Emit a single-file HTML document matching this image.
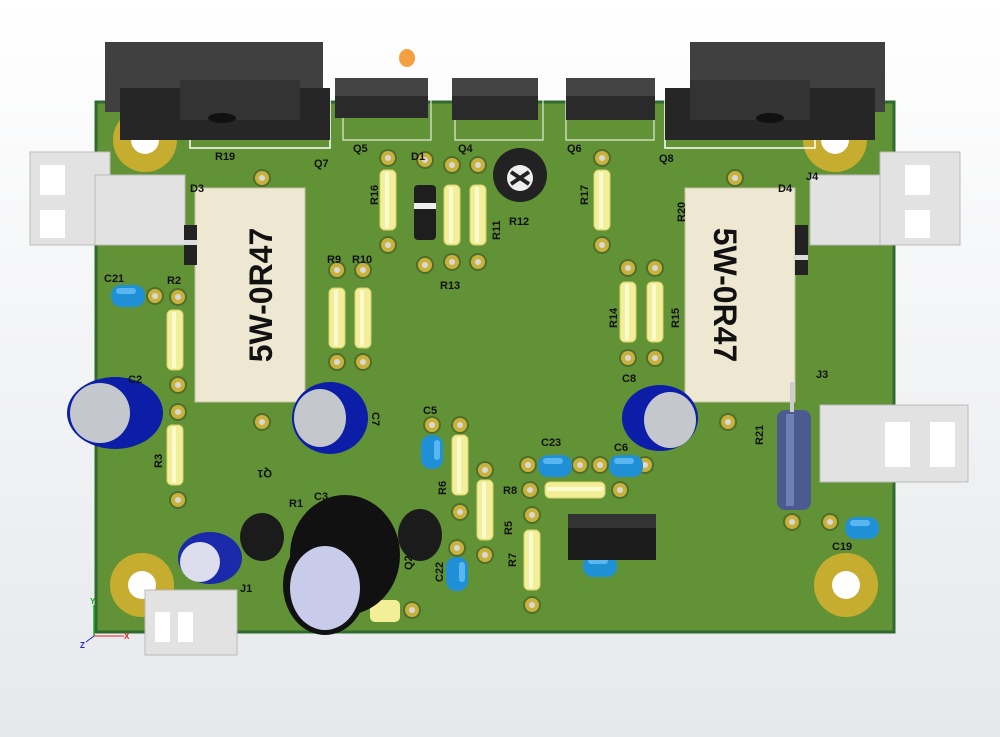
<!DOCTYPE html>
<html><head><style>
body{margin:0;background:#fff}
svg{display:block}
text{font-family:"Liberation Sans",sans-serif;font-weight:bold;font-size:11px;fill:#111}
</style></head><body>
<svg width="1000" height="737" viewBox="0 0 1000 737">
<defs>
<linearGradient id="bg" x1="0" y1="0" x2="0" y2="1"><stop offset="0" stop-color="#ffffff"/><stop offset="1" stop-color="#e6e8ec"/></linearGradient>
<g id="pad"><circle r="9" fill="#4e6e2a"/><circle r="7" fill="#c9b23c"/><circle r="3" fill="#d8d8d8"/></g>
<g id="rv"><rect x="-8" y="-30" width="16" height="60" rx="5" fill="#f3ef98" stroke="#d8d070" stroke-width="1"/><rect x="-3" y="-28" width="4" height="56" fill="#fbf9d0"/></g>
<g id="cap"><rect x="-17" y="-11" width="34" height="22" rx="10" fill="#1f8fd6"/><rect x="-12" y="-8" width="20" height="6" rx="3" fill="#5ab6ee"/></g>
</defs>
<rect width="1000" height="737" fill="url(#bg)"/>
<rect x="96" y="102" width="798" height="530" fill="#629236" stroke="#2f6a2e" stroke-width="3"/>
<g fill="#c6ad2f"><circle cx="145" cy="140" r="32"/><circle cx="835" cy="140" r="32"/><circle cx="142" cy="585" r="32"/><circle cx="846" cy="585" r="32"/></g>
<g fill="#fff"><circle cx="145" cy="140" r="14"/><circle cx="835" cy="140" r="14"/><circle cx="142" cy="585" r="14"/><circle cx="846" cy="585" r="14"/></g>
<rect x="190" y="100" width="140" height="48" fill="none" stroke="#fff" stroke-width="1.5"/>
<rect x="105" y="42" width="218" height="70" fill="#404040"/>
<rect x="120" y="88" width="210" height="52" fill="#262626"/>
<rect x="180" y="80" width="120" height="40" fill="#333"/>
<ellipse cx="222" cy="118" rx="14" ry="5" fill="#111"/>
<rect x="665" y="100" width="150" height="48" fill="none" stroke="#fff" stroke-width="1.5"/>
<rect x="690" y="42" width="195" height="70" fill="#404040"/>
<rect x="665" y="88" width="210" height="52" fill="#262626"/>
<rect x="690" y="80" width="120" height="40" fill="#333"/>
<ellipse cx="770" cy="118" rx="14" ry="5" fill="#111"/>
<g><rect x="343" y="100" width="88" height="40" fill="none" stroke="#fff"/><rect x="335" y="78" width="93" height="40" fill="#2a2a2a"/><rect x="335" y="78" width="93" height="18" fill="#444"/></g>
<g><rect x="455" y="100" width="88" height="40" fill="none" stroke="#fff"/><rect x="452" y="78" width="86" height="42" fill="#2a2a2a"/><rect x="452" y="78" width="86" height="18" fill="#444"/></g>
<g><rect x="566" y="100" width="88" height="40" fill="none" stroke="#fff"/><rect x="566" y="78" width="89" height="42" fill="#2a2a2a"/><rect x="566" y="78" width="89" height="18" fill="#444"/></g>
<ellipse cx="407" cy="58" rx="8" ry="9" fill="#f5a040"/>
<g fill="#e2e2e2" stroke="#bbb"><rect x="30" y="152" width="80" height="93"/><rect x="95" y="175" width="90" height="70"/><rect x="810" y="175" width="90" height="70"/><rect x="880" y="152" width="80" height="93"/><rect x="820" y="405" width="148" height="77"/><rect x="145" y="590" width="92" height="65"/></g>
<g fill="#fff"><rect x="40" y="165" width="25" height="30"/><rect x="40" y="210" width="25" height="28"/><rect x="905" y="165" width="25" height="30"/><rect x="905" y="210" width="25" height="28"/><rect x="885" y="422" width="25" height="45"/><rect x="930" y="422" width="25" height="45"/><rect x="155" y="612" width="15" height="30"/><rect x="178" y="612" width="15" height="30"/></g>
<rect x="195" y="188" width="110" height="214" fill="#eee8d2" stroke="#c8c0a8"/>
<rect x="685" y="188" width="110" height="214" fill="#eee8d2" stroke="#c8c0a8"/>
<text transform="translate(272,295) rotate(-90)" text-anchor="middle" style="font-size:32px;fill:#111">5W-0R47</text>
<text transform="translate(714,295) rotate(90)" text-anchor="middle" style="font-size:32px;fill:#111">5W-0R47</text>
<use href="#pad" x="262" y="178"/><use href="#pad" x="262" y="422"/><use href="#pad" x="735" y="178"/><use href="#pad" x="728" y="422"/>
<rect x="184" y="225" width="13" height="40" fill="#222"/><rect x="184" y="240" width="13" height="5" fill="#ddd"/>
<rect x="795" y="225" width="13" height="50" fill="#222"/><rect x="795" y="255" width="13" height="5" fill="#ddd"/>
<g>
<use href="#pad" x="388" y="158"/><use href="#pad" x="388" y="245"/><use href="#rv" x="388" y="200"/>
<use href="#pad" x="425" y="160"/><use href="#pad" x="425" y="265"/><rect x="414" y="185" width="22" height="55" rx="4" fill="#1e1e1e"/><rect x="414" y="203" width="22" height="6" fill="#eee"/>
<use href="#pad" x="452" y="165"/><use href="#pad" x="452" y="262"/><use href="#rv" x="452" y="215"/>
<use href="#pad" x="478" y="165"/><use href="#pad" x="478" y="262"/><use href="#rv" x="478" y="215"/>
<use href="#pad" x="602" y="158"/><use href="#pad" x="602" y="245"/><use href="#rv" x="602" y="200"/>
<use href="#pad" x="337" y="270"/><use href="#pad" x="337" y="362"/><use href="#rv" x="337" y="318"/>
<use href="#pad" x="363" y="270"/><use href="#pad" x="363" y="362"/><use href="#rv" x="363" y="318"/>
<use href="#pad" x="628" y="268"/><use href="#pad" x="628" y="358"/><use href="#rv" x="628" y="312"/>
<use href="#pad" x="655" y="268"/><use href="#pad" x="655" y="358"/><use href="#rv" x="655" y="312"/>
<use href="#pad" x="178" y="297"/><use href="#pad" x="178" y="385"/><use href="#rv" x="175" y="340"/>
<use href="#pad" x="178" y="412"/><use href="#pad" x="178" y="500"/><use href="#rv" x="175" y="455"/>
<use href="#pad" x="460" y="425"/><use href="#pad" x="460" y="512"/><use href="#rv" x="460" y="465"/>
<use href="#pad" x="485" y="470"/><use href="#pad" x="485" y="555"/><use href="#rv" x="485" y="510"/>
<use href="#pad" x="532" y="515"/><use href="#pad" x="532" y="605"/><use href="#rv" x="532" y="560"/>
<use href="#pad" x="530" y="490"/><use href="#pad" x="620" y="490"/><use href="#rv" transform="translate(575,490) rotate(90)"/>
<use href="#pad" x="412" y="610"/><rect x="370" y="600" width="30" height="22" rx="5" fill="#f3ef98"/>
</g>
<use href="#pad" x="792" y="522"/><rect x="777" y="410" width="34" height="100" rx="8" fill="#4b5b8f"/><rect x="786" y="414" width="8" height="92" fill="#6f80b5"/><rect x="790" y="382" width="4" height="30" fill="#ccc"/>
<circle cx="520" cy="175" r="27" fill="#222"/><circle cx="520" cy="178" r="13" fill="#eee"/><path d="M511 172l18 12M529 172l-18 12" stroke="#222" stroke-width="4"/>
<use href="#pad" x="155" y="296"/><use href="#cap" x="128" y="296"/>
<use href="#pad" x="432" y="425"/><use href="#cap" transform="translate(432,452) rotate(90)"/>
<use href="#pad" x="528" y="465"/><use href="#pad" x="580" y="465"/><use href="#cap" x="555" y="466"/>
<use href="#pad" x="600" y="465"/><use href="#pad" x="645" y="465"/><use href="#cap" x="626" y="466"/>
<use href="#pad" x="457" y="548"/><use href="#cap" transform="translate(457,574) rotate(90)"/>
<use href="#pad" x="830" y="522"/><use href="#cap" x="862" y="528"/>
<use href="#cap" x="600" y="566"/>
<rect x="568" y="522" width="88" height="38" fill="#1c1c1c"/><rect x="568" y="514" width="88" height="14" fill="#333"/>
<ellipse cx="115" cy="413" rx="48" ry="36" fill="#0c1ea8"/><ellipse cx="100" cy="413" rx="30" ry="30" fill="#c4c7cc"/>
<ellipse cx="330" cy="418" rx="38" ry="36" fill="#0c1ea8"/><ellipse cx="320" cy="418" rx="26" ry="29" fill="#c4c7cc"/>
<ellipse cx="660" cy="418" rx="38" ry="33" fill="#0c1ea8"/><ellipse cx="670" cy="420" rx="26" ry="28" fill="#c4c7cc"/>
<ellipse cx="210" cy="558" rx="32" ry="26" fill="#1a2aa8"/><ellipse cx="200" cy="562" rx="20" ry="20" fill="#dde"/>
<ellipse cx="262" cy="537" rx="22" ry="24" fill="#1b1b1b"/>
<ellipse cx="420" cy="535" rx="22" ry="26" fill="#1b1b1b"/>
<ellipse cx="345" cy="555" rx="55" ry="60" fill="#111"/><ellipse cx="325" cy="585" rx="42" ry="50" fill="#111"/><ellipse cx="325" cy="588" rx="35" ry="42" fill="#c9cbea"/>
<text x="215" y="160">R19</text><text x="314" y="167">Q7</text><text x="353" y="152">Q5</text><text x="411" y="160">D1</text><text x="458" y="152">Q4</text>
<text x="567" y="152">Q6</text><text x="659" y="162">Q8</text><text x="190" y="192">D3</text><text x="778" y="192">D4</text><text x="806" y="180">J4</text>
<text x="104" y="282">C21</text><text x="167" y="284">R2</text><text x="327" y="263">R9</text><text x="352" y="263">R10</text><text x="440" y="289">R13</text>
<text x="509" y="225">R12</text><text x="128" y="383">C2</text><text x="622" y="382">C8</text><text x="816" y="378">J3</text><text x="423" y="414">C5</text>
<text x="541" y="446">C23</text><text x="614" y="451">C6</text><text x="503" y="494">R8</text><text x="314" y="500">C3</text><text x="289" y="507">R1</text>
<text x="832" y="550">C19</text><text x="240" y="592">J1</text>
<text transform="translate(378,205) rotate(-90)">R16</text><text transform="translate(500,240) rotate(-90)">R11</text>
<text transform="translate(588,205) rotate(-90)">R17</text><text transform="translate(685,222) rotate(-90)">R20</text>
<text transform="translate(617,328) rotate(-90)">R14</text><text transform="translate(679,328) rotate(-90)">R15</text>
<text transform="translate(162,468) rotate(-90)">R3</text><text transform="translate(446,495) rotate(-90)">R6</text>
<text transform="translate(512,535) rotate(-90)">R5</text><text transform="translate(516,567) rotate(-90)">R7</text>
<text transform="translate(443,582) rotate(-90)">C22</text><text transform="translate(763,445) rotate(-90)">R21</text>
<text transform="translate(372,412) rotate(90)">C7</text><text transform="translate(272,470) rotate(180)">Q1</text>
<text transform="translate(412,570) rotate(-90)">Q2</text>
<path d="M94 636V605" stroke="#2a2" stroke-width="1.5"/><path d="M94 636h30" stroke="#d22"/><path d="M94 636l-8 6" stroke="#22d"/>
<text x="90" y="604" style="font-size:8px;fill:#2a2">Y</text><text x="124" y="639" style="font-size:8px;fill:#d22">X</text><text x="80" y="648" style="font-size:8px;fill:#22d">Z</text>
</svg>
</body></html>
